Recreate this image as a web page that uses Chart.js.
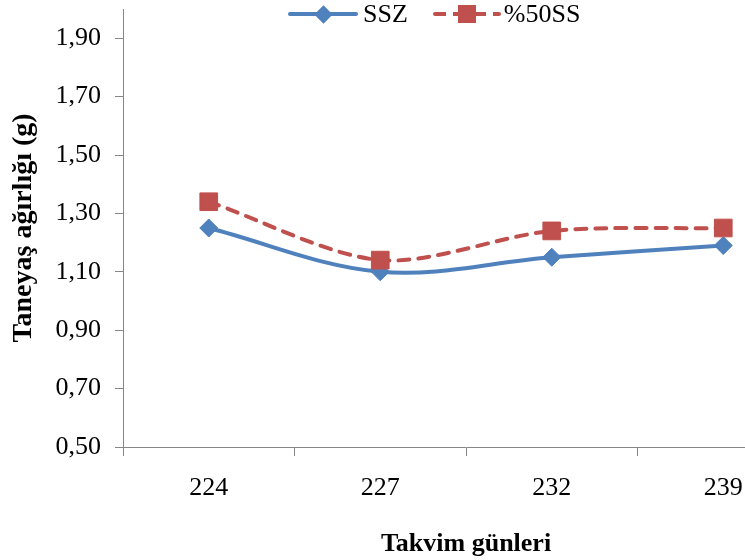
<!DOCTYPE html>
<html>
<head>
<meta charset="utf-8">
<script src="https://cdn.jsdelivr.net/npm/chart.js@4.4.1/dist/chart.umd.min.js"></script>
<style>
    html, body { margin: 0; padding: 0; background: #fff; overflow: hidden; }
    #wrap { position: relative; width: 820px; height: 560px; }
    #legend {
        position: absolute; top: 0; left: 288px; height: 28px;
        display: flex; align-items: center;
        font: 26px "Liberation Serif", "Times New Roman", serif; color: #000;
    }
    .legend-item { display: flex; align-items: center; height: 28px; line-height: 28px; }
    .legend-line { position: relative; height: 28px; }
    .legend-seg { position: absolute; left: 0; right: 0; top: 12px; height: 4px; border-radius: 2px; }
    .legend-mark { position: absolute; }
</style>
</head>
<body>
<div id="wrap">
    <canvas id="lineChart"></canvas>
    <div id="legend"></div>
</div>
<script>
// data
const categories = ['224', '227', '232', '239'];
const sszValues = [1.25, 1.10, 1.15, 1.19];
const ss50Values = [1.34, 1.14, 1.24, 1.25];
const yTickValues = [0.5, 0.7, 0.9, 1.1, 1.3, 1.5, 1.7, 1.9];
const yMin = 0.5;
const yMax = 2.0; // axis top, no label shown there

const blue = '#4F81BD';
const red = '#C0504D';
const axisGray = '#868686';
const serif = '"Liberation Serif", "Times New Roman", serif';

const ctx = document.getElementById('lineChart').getContext('2d');

window.lineChartInstance = new Chart(ctx, {
    type: 'line',
    data: {
        labels: categories,
        datasets: [
            {
                label: 'SSZ',
                data: sszValues,
                borderColor: blue,
                backgroundColor: blue,
                borderWidth: 4,
                tension: 0.35,
                pointStyle: 'rectRot',
                pointRadius: 9,
                pointBorderWidth: 1,
                pointBackgroundColor: blue,
                pointBorderColor: blue,
                order: 2,
            },
            {
                label: '%50SS',
                data: ss50Values,
                borderColor: red,
                backgroundColor: red,
                borderWidth: 4,
                borderDash: [11, 9],
                borderCapStyle: 'round',
                tension: 0.3,
                pointStyle: 'rect',
                pointRadius: 12.5,
                pointBorderWidth: 1,
                pointBackgroundColor: red,
                pointBorderColor: red,
                order: 1,
            },
        ],
    },
    options: {
        responsive: true,
        maintainAspectRatio: false,
        animation: false,
        layout: {
            autoPadding: false, // otherwise the point size pushes the plot top down
            padding: { left: 5, right: 11, top: 9, bottom: 0 },
        },
        plugins: {
            legend: { display: false }, // html legend below
            tooltip: { enabled: false },
        },
        scales: {
            x: {
                offset: true,
                border: { color: axisGray, width: 1 },
                grid: {
                    offset: true,
                    drawOnChartArea: false,
                    tickLength: 9,
                    color: axisGray,
                },
                ticks: {
                    color: '#000',
                    padding: 17,
                    font: { family: serif, size: 26 },
                },
                title: {
                    display: true,
                    text: 'Takvim günleri',
                    color: '#000',
                    font: { family: serif, size: 26, weight: 'bold' },
                    padding: { top: 0, bottom: 0 },
                },
                afterFit: (scale) => {
                    scale.height = 113;
                },
            },
            y: {
                min: yMin,
                max: yMax,
                border: { color: axisGray, width: 1 },
                grid: {
                    drawOnChartArea: false,
                    tickLength: 8,
                    color: axisGray,
                },
                afterBuildTicks: (scale) => {
                    scale.ticks = yTickValues.map((v) => ({ value: v }));
                },
                ticks: {
                    color: '#000',
                    padding: 14,
                    font: { family: serif, size: 26, lineHeight: 0.5 },
                    callback: (value) => Number(value).toFixed(2).replace('.', ','),
                },
                title: {
                    display: true,
                    text: 'Taneyaş ağırlığı (g)',
                    color: '#000',
                    font: { family: serif, size: 28, weight: 'bold' },
                    padding: { top: 2, bottom: 0 },
                },
                afterFit: (scale) => {
                    scale.width = 118;
                    scale.paddingTop = 0;
                },
            },
        },
    },
});

// legend built in html so it can sit over the plot like the original
const renderLegend = () => {
    const legendContainer = document.getElementById('legend');
    legendContainer.innerHTML = '';

    const items = [
        { text: 'SSZ', color: blue, dashed: false, width: 70, gap: 5, after: 25, mark: 'diamond' },
        { text: '%50SS', color: red, dashed: true, width: 68, gap: 3, after: 0, mark: 'square' },
    ];

    items.forEach((item) => {
        const legendItem = document.createElement('div');
        legendItem.classList.add('legend-item');
        legendItem.style.marginRight = item.after + 'px';

        const lineBox = document.createElement('div');
        lineBox.classList.add('legend-line');
        lineBox.style.width = item.width + 'px';
        lineBox.style.marginRight = item.gap + 'px';

        const seg = document.createElement('div');
        seg.classList.add('legend-seg');
        if (item.dashed) {
            seg.style.background = `repeating-linear-gradient(90deg, ${item.color} 0 13px, transparent 13px 20px)`;
        } else {
            seg.style.background = item.color;
        }
        lineBox.appendChild(seg);

        const mark = document.createElement('div');
        mark.classList.add('legend-mark');
        mark.style.background = item.color;
        const mid = item.width / 2;
        if (item.mark === 'diamond') {
            mark.style.width = '13px';
            mark.style.height = '13px';
            mark.style.left = (mid - 6.5) + 'px';
            mark.style.top = '7.5px';
            mark.style.transform = 'rotate(45deg)';
        } else {
            mark.style.width = '18px';
            mark.style.height = '18px';
            mark.style.left = (mid - 9) + 'px';
            mark.style.top = '5px';
        }
        lineBox.appendChild(mark);

        const label = document.createElement('span');
        label.textContent = item.text;

        legendItem.appendChild(lineBox);
        legendItem.appendChild(label);
        legendContainer.appendChild(legendItem);
    });
};

renderLegend();
</script>
</body>
</html>
